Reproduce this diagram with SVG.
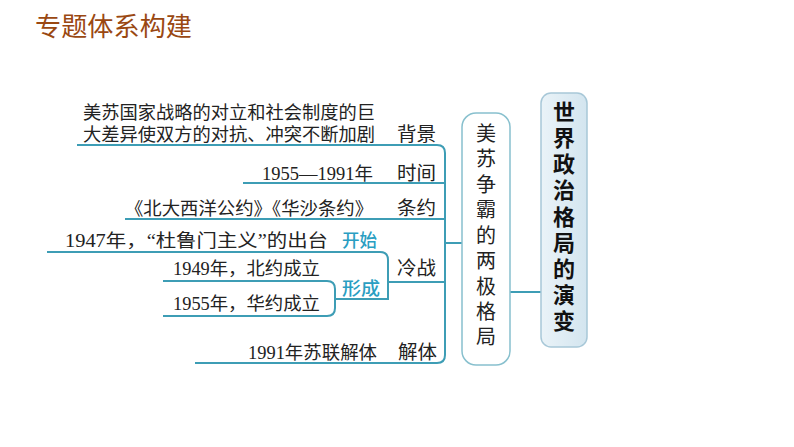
<svg xmlns="http://www.w3.org/2000/svg" width="794" height="447" viewBox="0 0 794 447">
<defs>
<linearGradient id="gMain" x1="0" y1="0" x2="1" y2="0">
<stop offset="0" stop-color="#eaf3f8"/>
<stop offset="1" stop-color="#d3e5ef"/>
</linearGradient>
<style>
.ln{fill:none;stroke:#3d9db5;stroke-width:2}
.t{font-family:"Liberation Serif","Noto Sans CJK SC",serif;font-size:18px;fill:#222}
.lab{font-family:"Noto Sans CJK SC",sans-serif;font-size:19px;fill:#222}
.blue{font-family:"Noto Sans CJK SC",sans-serif;font-size:18px;fill:#2a9ec2;font-weight:500}
.v1{font-family:"Noto Sans CJK SC",sans-serif;font-size:20px;fill:#222;text-anchor:middle}
.v2{font-family:"Noto Sans CJK SC",sans-serif;font-size:22px;fill:#111;font-weight:bold;text-anchor:middle}
</style>
</defs>
<rect width="794" height="447" fill="#ffffff"/>
<text x="35" y="36" font-family="Noto Sans CJK SC, sans-serif" font-size="26" fill="#9a4812" textLength="157" lengthAdjust="spacingAndGlyphs">专题体系构建</text>

<g id="connectors">
<path class="ln" d="M77,145 H437 Q445,145 445,153 V355 Q445,363 437,363 H195"/>
<path class="ln" d="M243,183 H445"/>
<path class="ln" d="M125,219 H445"/>
<path class="ln" d="M388,282 H445"/>
<path class="ln" d="M445,243 H462"/>
<path class="ln" d="M47,252 H380 Q388,252 388,260 V299 H335"/>
<path class="ln" d="M163,281 H327 Q335,281 335,289 V308 Q335,316 327,316 H163"/>
<path class="ln" d="M510,292 H541"/>
</g>

<g id="main">
<rect x="541" y="93" width="46" height="254" rx="10" fill="url(#gMain)" stroke="#a8c8d8" stroke-width="1.5"/>
<text class="v2" x="564" y="120">世</text>
<text class="v2" x="564" y="146">界</text>
<text class="v2" x="564" y="172">政</text>
<text class="v2" x="564" y="198">治</text>
<text class="v2" x="564" y="225">格</text>
<text class="v2" x="564" y="251">局</text>
<text class="v2" x="564" y="277">的</text>
<text class="v2" x="564" y="303">演</text>
<text class="v2" x="564" y="329">变</text>
</g>

<g id="bipolar">
<rect x="462" y="113" width="48" height="252" rx="14" fill="#ffffff" stroke="#88c0ce" stroke-width="1.5"/>
<text class="v1" x="486" y="141">美</text>
<text class="v1" x="486" y="166">苏</text>
<text class="v1" x="486" y="192">争</text>
<text class="v1" x="486" y="217">霸</text>
<text class="v1" x="486" y="243">的</text>
<text class="v1" x="486" y="268">两</text>
<text class="v1" x="486" y="294">极</text>
<text class="v1" x="486" y="319">格</text>
<text class="v1" x="486" y="344">局</text>
</g>

<g id="background">
<text class="t" x="83" y="119" textLength="292" lengthAdjust="spacingAndGlyphs">美苏国家战略的对立和社会制度的巨</text>
<text class="t" x="83" y="141" textLength="292" lengthAdjust="spacingAndGlyphs">大差异使双方的对抗、冲突不断加剧</text>
<text class="lab" x="397" y="141" textLength="39" lengthAdjust="spacingAndGlyphs">背景</text>
</g>

<g id="time">
<text class="t" x="262" y="180" textLength="111" lengthAdjust="spacingAndGlyphs">1955—1991年</text>
<text class="lab" x="397" y="180" textLength="39" lengthAdjust="spacingAndGlyphs">时间</text>
</g>

<g id="treaty">
<text class="t" x="125" y="215" textLength="248" lengthAdjust="spacingAndGlyphs">《北大西洋公约》《华沙条约》</text>
<text class="lab" x="397" y="215" textLength="39" lengthAdjust="spacingAndGlyphs">条约</text>
</g>

<g id="coldwar">
<text class="t" x="65" y="247" textLength="263" lengthAdjust="spacingAndGlyphs">1947年，“杜鲁门主义”的出台</text>
<text class="blue" x="342" y="247" textLength="35" lengthAdjust="spacingAndGlyphs">开始</text>
<text class="t" x="173" y="275" textLength="147" lengthAdjust="spacingAndGlyphs">1949年，北约成立</text>
<text class="blue" x="342" y="295" textLength="38" lengthAdjust="spacingAndGlyphs">形成</text>
<text class="t" x="173" y="310" textLength="147" lengthAdjust="spacingAndGlyphs">1955年，华约成立</text>
<text class="lab" x="397" y="275" textLength="39" lengthAdjust="spacingAndGlyphs">冷战</text>
</g>

<g id="collapse">
<text class="t" x="248" y="359" textLength="129" lengthAdjust="spacingAndGlyphs">1991年苏联解体</text>
<text class="lab" x="398" y="359" textLength="39" lengthAdjust="spacingAndGlyphs">解体</text>
</g>
</svg>
